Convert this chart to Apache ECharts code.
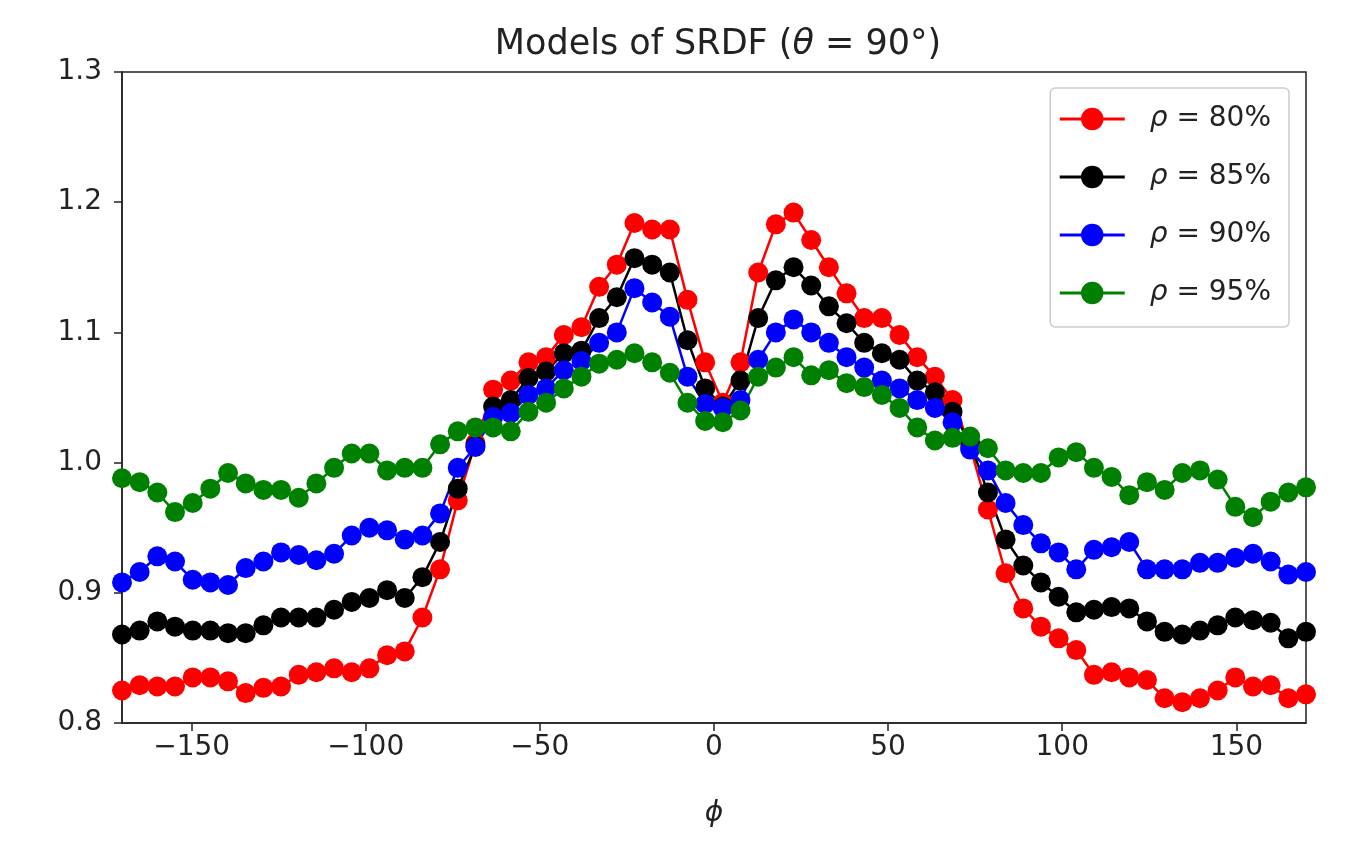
<!DOCTYPE html>
<html>
<head>
<meta charset="utf-8">
<script src="https://cdn.jsdelivr.net/npm/echarts@6/dist/echarts.min.js"></script>
<style>
html,body{margin:0;padding:0;background:#fff;}
#chart{width:1358px;height:845px;}
</style>
</head>
<body>
<div id="chart"></div>
<script>
const phi = [-170.00,-164.93,-159.85,-154.78,-149.70,-144.63,-139.55,-134.48,-129.40,-124.33,-119.25,-114.18,-109.10,-104.03,-98.96,-93.88,-88.81,-83.73,-78.66,-73.58,-68.51,-63.43,-58.36,-53.28,-48.21,-43.13,-38.06,-32.99,-27.91,-22.84,-17.76,-12.69,-7.61,-2.54,
2.54,7.61,12.69,17.76,22.84,27.91,32.99,38.06,43.13,48.21,53.28,58.36,63.43,68.51,73.58,78.66,83.73,88.81,93.88,98.96,104.03,109.10,114.18,119.25,124.33,129.40,134.48,139.55,144.63,149.70,154.78,159.85,164.93,170.00];

const rho80 = [0.825,0.829,0.828,0.828,0.835,0.835,0.832,0.823,0.827,0.828,0.837,0.839,0.842,0.839,0.842,0.852,0.855,0.881,0.918,0.971,1.015,1.056,1.063,1.077,1.081,1.098,1.104,1.135,1.152,1.184,1.179,1.179,1.125,1.077,
1.046,1.077,1.146,1.183,1.192,1.171,1.150,1.130,1.111,1.111,1.098,1.081,1.066,1.048,1.012,0.964,0.915,0.888,0.874,0.865,0.856,0.837,0.839,0.835,0.833,0.819,0.816,0.819,0.825,0.835,0.828,0.829,0.819,0.822];

const rho85 = [0.868,0.871,0.878,0.874,0.871,0.871,0.869,0.869,0.875,0.881,0.881,0.881,0.887,0.893,0.896,0.902,0.896,0.912,0.939,0.980,1.013,1.043,1.048,1.065,1.070,1.084,1.086,1.111,1.127,1.157,1.152,1.146,1.094,1.057,
1.043,1.063,1.111,1.140,1.150,1.136,1.120,1.107,1.092,1.084,1.079,1.063,1.054,1.039,1.015,0.977,0.941,0.921,0.908,0.897,0.885,0.887,0.889,0.888,0.878,0.870,0.868,0.871,0.875,0.881,0.879,0.877,0.865,0.870];

const rho90 = [0.908,0.916,0.928,0.924,0.910,0.908,0.906,0.919,0.924,0.931,0.929,0.925,0.930,0.944,0.950,0.948,0.941,0.944,0.961,0.996,1.012,1.035,1.038,1.052,1.057,1.071,1.078,1.092,1.100,1.134,1.123,1.112,1.066,1.045,
1.042,1.048,1.079,1.100,1.110,1.100,1.092,1.081,1.073,1.063,1.057,1.048,1.042,1.031,1.010,0.994,0.969,0.952,0.938,0.931,0.918,0.933,0.935,0.939,0.918,0.918,0.918,0.923,0.923,0.927,0.930,0.924,0.914,0.916];

const rho95 = [0.988,0.985,0.977,0.962,0.969,0.980,0.992,0.984,0.979,0.979,0.973,0.984,0.996,1.007,1.007,0.994,0.996,0.996,1.014,1.024,1.027,1.027,1.024,1.039,1.046,1.057,1.066,1.076,1.079,1.084,1.077,1.069,1.046,1.032,
1.031,1.040,1.066,1.073,1.081,1.067,1.071,1.061,1.058,1.052,1.042,1.027,1.017,1.019,1.020,1.011,0.994,0.992,0.992,1.004,1.008,0.996,0.989,0.975,0.985,0.979,0.992,0.994,0.987,0.966,0.958,0.970,0.977,0.981];

const seriesNames = ['ρ = 80%', 'ρ = 85%', 'ρ = 90%', 'ρ = 95%'];
const seriesColors = ['#ff0000', '#000000', '#0000ff', '#008000'];
const seriesValues = [rho80, rho85, rho90, rho95];
const xTicks = [-150, -100, -50, 0, 50, 100, 150];
const yTicks = [0.8, 0.9, 1.0, 1.1, 1.2, 1.3];
const titleText = 'Models of SRDF ({i|θ} = 90°)';
const xName = 'ϕ';

const FONT = 'DejaVu Sans';
const chart = echarts.init(document.getElementById('chart'), null, {renderer: 'canvas'});

const series = seriesValues.map((vals, i) => ({
  name: seriesNames[i],
  type: 'line',
  data: phi.map((p, j) => [p, vals[j]]),
  symbol: 'circle',
  symbolSize: 20,
  showSymbol: true,
  color: seriesColors[i],
  lineStyle: {width: 2.5, color: seriesColors[i]},
  itemStyle: {color: seriesColors[i]},
  emphasis: {disabled: true},
  animation: false,
  clip: true
}));

chart.setOption({
  animation: false,
  backgroundColor: '#ffffff',
  title: {
    text: titleText,
    left: 713,
    textAlign: 'center',
    top: 22,
    textStyle: {
      fontFamily: FONT, fontSize: 35, fontWeight: 'normal', color: '#222',
      rich: {i: {fontFamily: FONT, fontSize: 35, fontStyle: 'italic', color: '#222'}}
    }
  },
  grid: {
    left: 122, right: 52, top: 72, bottom: 122,
    show: true, borderColor: '#222', borderWidth: 1.5, backgroundColor: 'transparent'
  },
  legend: {
    orient: 'vertical',
    right: 69,
    top: 88,
    itemWidth: 65,
    itemHeight: 28,
    itemGap: 30,
    padding: [17, 18, 20, 8],
    backgroundColor: '#fff',
    borderColor: '#cccccc',
    borderWidth: 1.5,
    borderRadius: 5,
    data: seriesNames,
    lineStyle: {width: 3},
    formatter: name => name.replace('ρ', '{i|ρ}'),
    textStyle: {
      fontFamily: FONT, fontSize: 28, color: '#222', padding: [0, 0, 0, 20],
      rich: {i: {fontFamily: FONT, fontSize: 28, fontStyle: 'italic', color: '#222'}}
    }
  },
  xAxis: {
    type: 'value',
    min: -170,
    max: 170,
    name: xName,
    nameLocation: 'middle',
    nameGap: 77,
    nameTextStyle: {fontFamily: FONT, fontSize: 28, fontStyle: 'italic', color: '#222'},
    axisLine: {show: true, onZero: false, lineStyle: {color: '#222', width: 1.5}},
    axisTick: {show: true, inside: false, length: 8, customValues: xTicks, lineStyle: {color: '#222', width: 1.5}},
    axisLabel: {
      customValues: xTicks,
      margin: 11,
      fontFamily: FONT, fontSize: 28, color: '#222',
      formatter: v => (v < 0 ? '\u2212' + Math.abs(v) : String(v))
    },
    splitLine: {show: false}
  },
  yAxis: {
    type: 'value',
    min: 0.8,
    max: 1.3,
    axisLine: {show: true, onZero: false, lineStyle: {color: '#222', width: 1.5}},
    axisTick: {show: true, inside: false, length: 8, customValues: yTicks, lineStyle: {color: '#222', width: 1.5}},
    axisLabel: {
      customValues: yTicks,
      margin: 20,
      fontFamily: FONT, fontSize: 28, color: '#222',
      formatter: v => Number(v).toFixed(1)
    },
    splitLine: {show: false}
  },
  series: series
});
</script>
</body>
</html>
